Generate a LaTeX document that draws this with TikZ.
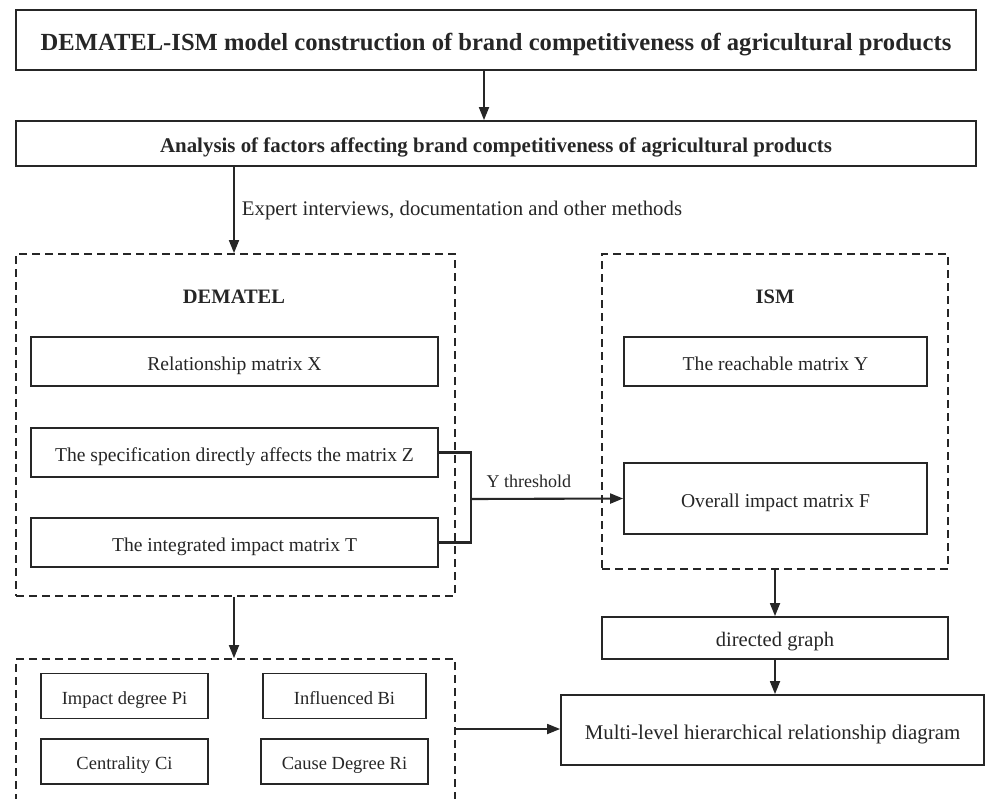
\documentclass[tikz,border=0pt]{standalone}
\usepackage{fontspec}
\setmainfont{Liberation Serif}
\usetikzlibrary{arrows.meta}
\definecolor{ink}{HTML}{262626}
\begin{document}
\begin{tikzpicture}[x=1pt,y=-1pt,
  box/.style={draw=ink,line width=1.8pt,text=ink,inner sep=0pt,text height=17pt,text depth=0pt,font=\fontsize{19.6}{22}\selectfont},
  sbox/.style={box,text height=16pt,font=\fontsize{18.5}{22}\selectfont},
  dbox/.style={draw=ink,line width=1.8pt,dash pattern=on 8pt off 5pt,inner sep=0pt},
  arr/.style={draw=ink,line width=1.8pt,-{Triangle[length=13pt,width=10pt]}},
  lbl/.style={text=ink,inner sep=0pt},
  hd/.style={text=ink,font=\bfseries\fontsize{20.5}{22}\selectfont,inner sep=0pt}]
\useasboundingbox (0,0) rectangle (985,798);
% top boxes
\node[box,text height=21pt,font=\bfseries\fontsize{24.6}{28}\selectfont,minimum width=960pt,minimum height=60pt] (top) at (496,40) {DEMATEL-ISM model construction of brand competitiveness of agricultural products};
\node[box,text height=18pt,font=\bfseries\fontsize{20.9}{24}\selectfont,minimum width=960pt,minimum height=45pt] (ana) at (496,143.5) {Analysis of factors affecting brand competitiveness of agricultural products};
% DEMATEL container
\node[dbox,minimum width=439pt,minimum height=342pt] (dem) at (235.5,425) {};
\node[hd] (demh) at (234,297) {DEMATEL};
\node[box,minimum width=407pt,minimum height=49pt] (X) at (234.5,361.5) {Relationship matrix X};
\node[box,minimum width=407pt,minimum height=49pt] (Z) at (234.5,452.5) {The specification directly affects the matrix Z};
\node[box,minimum width=407pt,minimum height=49pt] (T) at (234.5,542.5) {The integrated impact matrix T};
% ISM container
\node[dbox,minimum width=346pt,minimum height=315pt] (ism) at (775,411.5) {};
\node[hd] (ismh) at (775,297) {ISM};
\node[box,minimum width=303pt,minimum height=49pt] (Y) at (775.5,361.5) {The reachable matrix Y};
\node[box,minimum width=303pt,minimum height=71pt] (F) at (775.5,498.5) {Overall impact matrix F};
% lower right
\node[box,text height=17.7pt,font=\fontsize{20.6}{24}\selectfont,minimum width=346pt,minimum height=42pt] (dg) at (775,638) {directed graph};
\node[box,text height=18pt,font=\fontsize{20.9}{24}\selectfont,minimum width=423pt,minimum height=70pt] (ml) at (772.5,730) {Multi-level hierarchical relationship diagram};
% bottom-left container
\node[dbox,minimum width=439pt,minimum height=170pt] (ind) at (235.5,744) {};
\node[sbox,minimum width=167pt,minimum height=45pt] (P) at (124.5,696) {Impact degree Pi};
\node[sbox,minimum width=163pt,minimum height=45pt] (B) at (344.5,696) {Influenced Bi};
\node[sbox,minimum width=167pt,minimum height=45pt] (C) at (124.5,761.5) {Centrality Ci};
\node[sbox,minimum width=167pt,minimum height=45pt] (R) at (344.5,761.5) {Cause Degree Ri};
% connectors
\draw[arr] (top.south -| 484,0) -- (ana.north -| 484,0);
\draw[arr] (ana.south -| 234,0) -- node[lbl,font=\fontsize{20.8}{24}\selectfont,right=7pt] {Expert interviews, documentation and other methods} (dem.north -| 234,0);
\coordinate (br) at (471,499);
\draw[draw=ink,line width=2.1pt] (Z.east) -| (br) |- (T.east);
\draw[arr,line width=2.1pt] (br) -- node[lbl,font=\fontsize{18}{22}\selectfont,above=10pt,pos=0.38] {Y threshold} (F.west);
\draw[arr] (ism.south) -- (dg.north);
\draw[arr] (dg.south) -- (ml.north -| dg.south);
\draw[arr] (dem.south -| 234,0) -- (ind.north -| 234,0);
\draw[arr] (ind.east |- 0,729) -- (ml.west |- 0,729);
\end{tikzpicture}
\end{document}
